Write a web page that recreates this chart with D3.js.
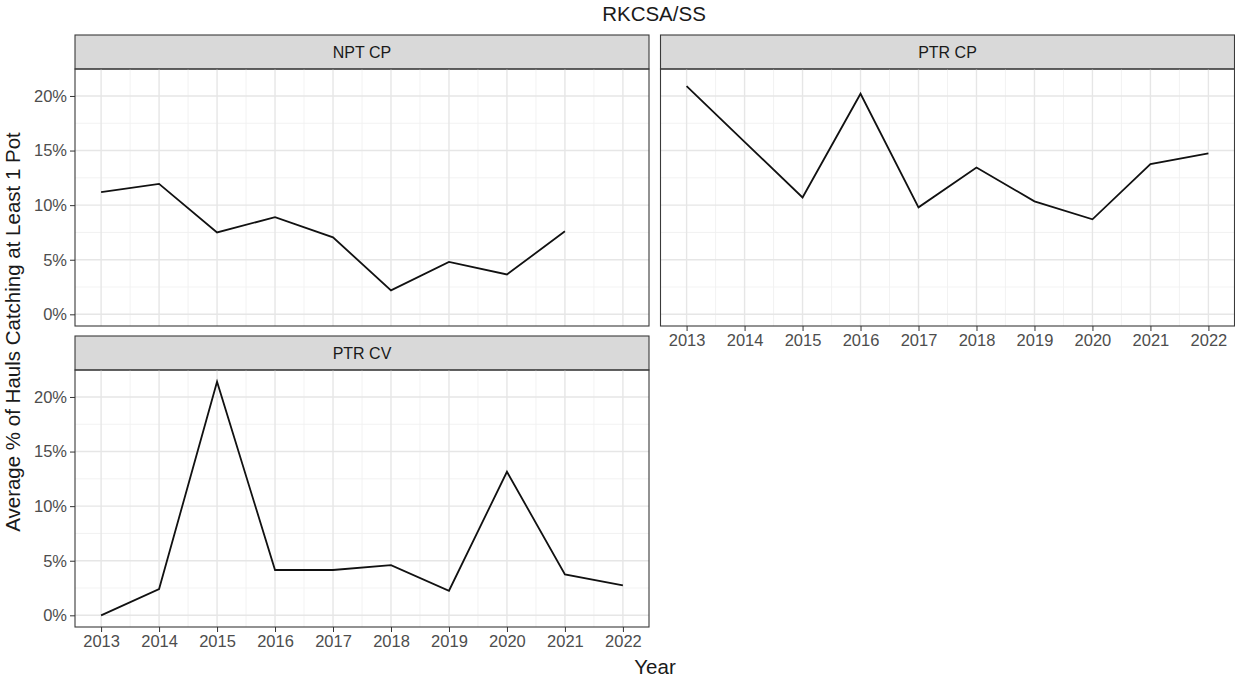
<!DOCTYPE html>
<html>
<head>
<meta charset="utf-8">
<script src="https://cdn.jsdelivr.net/npm/d3@7"></script>
<style>
  body { margin: 0; background: #fff; }
  svg { font-family: "Liberation Sans", Arial, sans-serif; }
  .tick text { fill: #4d4d4d; font-size: 16.5px; }
  .tick line { stroke: #333; }
  .domain { display: none; }
</style>
</head>
<body>
<div id="chart"></div>
<script>
var years = [2013, 2014, 2015, 2016, 2017, 2018, 2019, 2020, 2021, 2022]
var nptCP = [11.2, 11.95, 7.5, 8.9, 7.05, 2.2, 4.8, 3.65, 7.6, null]
var ptrCP = [20.9, 15.8, 10.7, 20.2, 9.8, 13.45, 10.35, 8.7, 13.75, 14.75]
var ptrCV = [0, 2.4, 21.4, 4.15, 4.15, 4.6, 2.25, 13.15, 3.75, 2.75]
var yTicks = [0, 5, 10, 15, 20]

var width = 1235, height = 681

var svg = d3.select('#chart').append('svg')
  .attr('width', width).attr('height', height)

// facet layout (ggplot facet_wrap, 2 columns)
var panels = [
  {name: 'NPT CP', values: nptCP, left: 75, top: 69, xAxis: false, yAxis: true},
  {name: 'PTR CP', values: ptrCP, left: 660.5, top: 69, xAxis: true, yAxis: false},
  {name: 'PTR CV', values: ptrCV, left: 75, top: 370, xAxis: true, yAxis: true}
]
var pw = 574, ph = 257, stripH = 34

var allVals = [].concat(nptCP, ptrCP, ptrCV).filter(function(d){ return d != null })
var ext = d3.extent(allVals)
var pad = (ext[1] - ext[0]) * 0.05
var x = d3.scaleLinear().domain([years[0] - 0.45, years[years.length - 1] + 0.45]).range([0, pw])
var y = d3.scaleLinear().domain([ext[0] - pad, ext[1] + pad]).range([ph, 0])

var minorX = years.slice(0, -1).map(function(d){ return d + 0.5 })
var minorY = [2.5, 7.5, 12.5, 17.5]

var line = d3.line()
  .defined(function(d){ return d.v != null })
  .x(function(d){ return x(d.year) })
  .y(function(d){ return y(d.v) })

panels.forEach(function(p){
  var g = svg.append('g').attr('transform', 'translate(' + p.left + ',' + p.top + ')')

  // strip
  g.append('rect')
    .attr('x', 0).attr('y', -stripH).attr('width', pw).attr('height', stripH)
    .attr('fill', '#d9d9d9').attr('stroke', '#3a3a3a').attr('stroke-width', 1.1)
  g.append('text')
    .attr('x', pw / 2).attr('y', -stripH / 2)
    .attr('dy', '0.36em').attr('text-anchor', 'middle')
    .attr('fill', '#1a1a1a').style('font-size', '16px')
    .text(p.name)

  // grid
  g.selectAll('.minx').data(minorX).enter().append('line')
    .attr('x1', x).attr('x2', x).attr('y1', 0).attr('y2', ph)
    .attr('stroke', '#f0f0f0').attr('stroke-width', 0.9)
  g.selectAll('.miny').data(minorY).enter().append('line')
    .attr('y1', y).attr('y2', y).attr('x1', 0).attr('x2', pw)
    .attr('stroke', '#f0f0f0').attr('stroke-width', 0.9)
  g.selectAll('.majx').data(years).enter().append('line')
    .attr('x1', x).attr('x2', x).attr('y1', 0).attr('y2', ph)
    .attr('stroke', '#e6e6e6').attr('stroke-width', 1.4)
  g.selectAll('.majy').data(yTicks).enter().append('line')
    .attr('y1', y).attr('y2', y).attr('x1', 0).attr('x2', pw)
    .attr('stroke', '#e6e6e6').attr('stroke-width', 1.4)

  var data = years.map(function(yr, i){ return {year: yr, v: p.values[i]} })
  g.append('path')
    .attr('d', line(data))
    .attr('fill', 'none').attr('stroke', '#111').attr('stroke-width', 1.8)

  g.append('rect')
    .attr('width', pw).attr('height', ph)
    .attr('fill', 'none').attr('stroke', '#3a3a3a').attr('stroke-width', 1.1)

  if (p.yAxis) {
    g.append('g')
      .call(d3.axisLeft(y).tickValues(yTicks).tickSize(5).tickPadding(3)
        .tickFormat(function(d){ return d + '%' }))
  }
  if (p.xAxis) {
    g.append('g').attr('transform', 'translate(0,' + ph + ')')
      .call(d3.axisBottom(x).tickValues(years).tickSize(5).tickPadding(3)
        .tickFormat(d3.format('d')))
  }
})

svg.append('text')
  .attr('x', 654).attr('y', 21).attr('text-anchor', 'middle')
  .attr('fill', '#1a1a1a').style('font-size', '20.5px')
  .text('RKCSA/SS')

svg.append('text')
  .attr('x', 655).attr('y', 674).attr('text-anchor', 'middle')
  .attr('fill', '#1a1a1a').style('font-size', '20.5px')
  .text('Year')

svg.append('text')
  .attr('transform', 'translate(20,' + 332 + ') rotate(-90)')
  .attr('text-anchor', 'middle')
  .attr('fill', '#1a1a1a').style('font-size', '20.5px')
  .text('Average % of Hauls Catching at Least 1 Pot')
</script>
</body>
</html>
